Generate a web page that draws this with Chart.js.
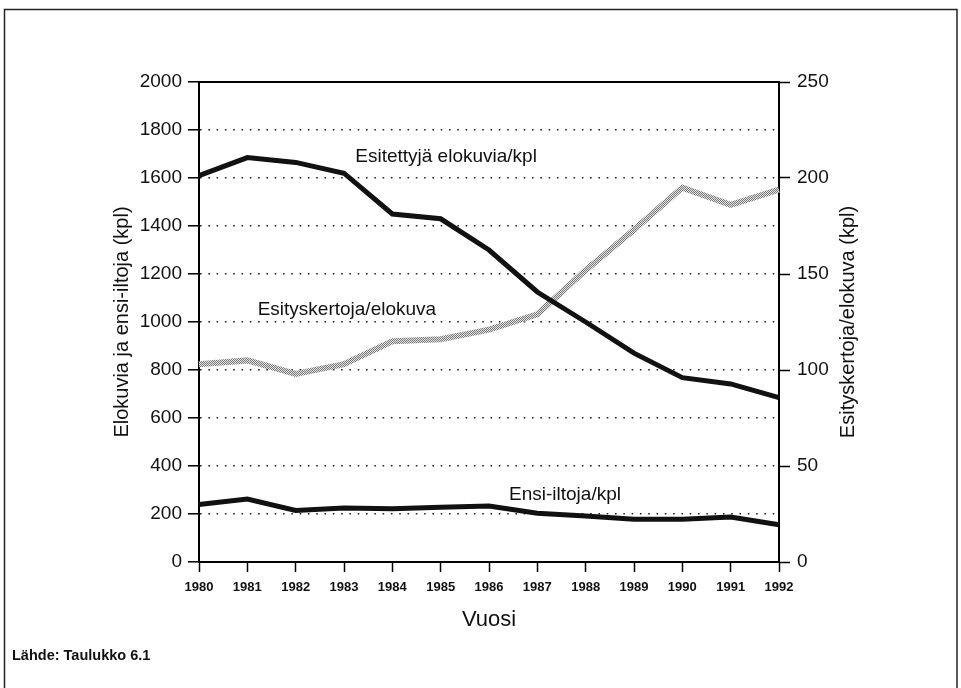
<!DOCTYPE html>
<html>
<head>
<meta charset="utf-8">
<script src="https://cdn.jsdelivr.net/npm/chart.js@4/dist/chart.umd.min.js"></script>
<style>
  html, body { margin: 0; padding: 0; background: #fff; }
  #wrap { width: 961px; height: 688px; position: relative; }
</style>
</head>
<body>
<div id="wrap"><canvas id="c" width="961" height="688"></canvas></div>
<script>
// Vuodet (x-akseli)
const years = ['1980','1981','1982','1983','1984','1985','1986','1987','1988','1989','1990','1991','1992'];
// Esitettyjä elokuvia, kpl (vasen akseli)
const esitettyja = [1610, 1685, 1665, 1620, 1450, 1430, 1300, 1125, 1000, 870, 768, 742, 685];
// Esityskertoja per elokuva (oikea akseli)
const esityskertoja = [103, 105, 98, 103, 115, 116, 121, 129, 152, 173, 195, 186, 194];
// Ensi-iltoja, kpl (vasen akseli)
const ensiIltoja = [240, 262, 215, 225, 222, 228, 233, 203, 192, 178, 178, 187, 155];
// Akselien asteikot
const leftTicks = [0, 200, 400, 600, 800, 1000, 1200, 1400, 1600, 1800, 2000];
const rightTicks = [0, 50, 100, 150, 200, 250];

const FONT = '"Liberation Sans", Arial, Helvetica, sans-serif';

// Rasteroitu harmaa kuvio esityskertojen viivalle
function ditherPattern() {
  const p = document.createElement('canvas');
  p.width = 2; p.height = 2;
  const g = p.getContext('2d');
  g.fillStyle = '#e2e2e2'; g.fillRect(0, 0, 2, 2);
  g.fillStyle = '#7a7a7a'; g.fillRect(0, 0, 1, 1); g.fillRect(1, 1, 1, 1);
  return g.createPattern(p, 'repeat');
}

// Kehys, viivojen nimet, oikean akselin otsikko ja lähde
const decorations = {
  id: 'decorations',
  beforeDraw(chart) {
    const ctx = chart.ctx;
    ctx.save();
    ctx.fillStyle = '#fff';
    ctx.fillRect(0, 0, chart.width, chart.height);
    ctx.strokeStyle = '#222';
    ctx.lineWidth = 1.5;
    ctx.strokeRect(4.5, 9.5, 952.5, 700);
    ctx.restore();
  },
  afterDraw(chart) {
    const ctx = chart.ctx;
    const a = chart.chartArea;
    const yL = chart.scales.y;
    // yläreuna
    ctx.save();
    ctx.strokeStyle = '#000';
    ctx.lineWidth = 2;
    ctx.beginPath();
    ctx.moveTo(a.left - 1, a.top);
    ctx.lineTo(a.right + 1, a.top);
    ctx.stroke();

    const fx = f => a.left + f * (a.right - a.left);
    ctx.fillStyle = '#111';
    ctx.font = '19px ' + FONT;
    ctx.textAlign = 'center';
    ctx.textBaseline = 'middle';
    ctx.fillText('Esitettyjä elokuvia/kpl', fx(0.426), yL.getPixelForValue(1688));
    ctx.fillText('Esityskertoja/elokuva', fx(0.255), yL.getPixelForValue(1050));
    ctx.fillText('Ensi-iltoja/kpl', fx(0.631), yL.getPixelForValue(280));

    // oikean akselin otsikko
    ctx.save();
    ctx.translate(848, (a.top + a.bottom) / 2);
    ctx.rotate(-Math.PI / 2);
    ctx.font = '20px ' + FONT;
    ctx.fillText('Esityskertoja/elokuva (kpl)', 0, 0);
    ctx.restore();

    ctx.textAlign = 'left';
    ctx.font = 'bold 14.5px ' + FONT;
    ctx.fillText('Lähde: Taulukko 6.1', 12, 656);
    ctx.restore();
  }
};

const ctx = document.getElementById('c').getContext('2d');
new Chart(ctx, {
  type: 'line',
  data: {
    labels: years,
    datasets: [
      {
        label: 'Esitettyjä elokuvia/kpl',
        data: esitettyja,
        yAxisID: 'y',
        borderColor: '#111',
        borderWidth: 5,
        pointRadius: 0,
        tension: 0
      },
      {
        label: 'Esityskertoja/elokuva',
        data: esityskertoja,
        yAxisID: 'y2',
        borderColor: ditherPattern(),
        borderWidth: 6,
        pointRadius: 0,
        tension: 0
      },
      {
        label: 'Ensi-iltoja/kpl',
        data: ensiIltoja,
        yAxisID: 'y',
        borderColor: '#111',
        borderWidth: 5,
        pointRadius: 0,
        tension: 0
      }
    ]
  },
  options: {
    responsive: false,
    animation: false,
    devicePixelRatio: 1,
    layout: { padding: { top: 82, left: 0, right: 0, bottom: 0 } },
    plugins: {
      legend: { display: false },
      tooltip: { enabled: false }
    },
    elements: { line: { borderCapStyle: 'butt', borderJoinStyle: 'miter' } },
    scales: {
      x: {
        type: 'category',
        offset: false,
        grid: {
          drawOnChartArea: false,
          drawTicks: true,
          tickLength: 10,
          tickColor: '#000',
          tickWidth: 1.5
        },
        border: { display: true, color: '#000', width: 2 },
        ticks: {
          color: '#111',
          padding: 8,
          maxRotation: 0,
          autoSkip: false,
          font: { family: FONT, size: 13, weight: 'bold' }
        },
        title: {
          display: true,
          text: 'Vuosi',
          color: '#111',
          font: { family: FONT, size: 22 },
          padding: { top: 0, bottom: 55 }
        },
        afterFit: s => { s.height = 126; }
      },
      y: {
        position: 'left',
        min: 0,
        max: 2000,
        afterBuildTicks: s => { s.ticks = leftTicks.map(v => ({ value: v })); },
        grid: {
          drawOnChartArea: true,
          color: c => (c.tick && (c.tick.value === 0 || c.tick.value === 2000)) ? 'rgba(0,0,0,0)' : '#222',
          lineWidth: 1.6,
          drawTicks: true,
          tickLength: 11,
          tickColor: '#000',
          tickWidth: 1.5,
          tickBorderDash: []
        },
        border: { display: true, color: '#000', width: 2, dash: [1.6, 6.7] },
        ticks: {
          color: '#111',
          padding: 6,
          font: { family: FONT, size: 19 },
          callback: v => String(v)
        },
        title: {
          display: true,
          text: 'Elokuvia ja ensi-iltoja (kpl)',
          color: '#111',
          font: { family: FONT, size: 20 },
          padding: { top: 110, bottom: 0 }
        },
        afterFit: s => { s.width = 199; }
      },
      y2: {
        position: 'right',
        min: 0,
        max: 250,
        afterBuildTicks: s => { s.ticks = rightTicks.map(v => ({ value: v })); },
        grid: {
          drawOnChartArea: false,
          drawTicks: true,
          tickLength: 11,
          tickColor: '#000',
          tickWidth: 1.5
        },
        border: { display: true, color: '#000', width: 2 },
        ticks: {
          color: '#111',
          padding: 7,
          font: { family: FONT, size: 19 },
          callback: v => String(v)
        },
        afterFit: s => { s.width = 182; }
      }
    }
  },
  plugins: [decorations]
});
</script>
</body>
</html>
